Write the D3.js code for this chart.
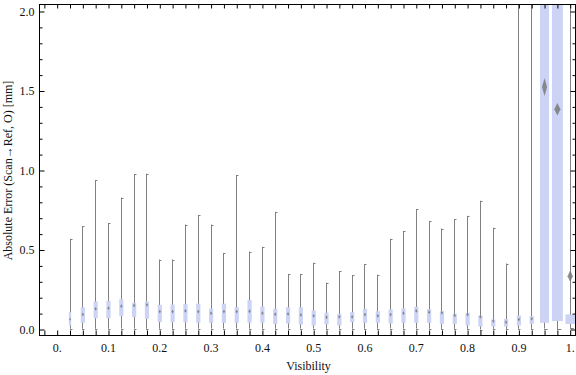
<!DOCTYPE html>
<html><head><meta charset="utf-8">
<script src="https://cdn.jsdelivr.net/npm/d3@7"></script>
<style>body{margin:0;background:#fff}svg{display:block}</style>
</head><body>
<svg id="c" width="576" height="375"></svg>
<script>
const positions = [0.025,0.05,0.075,0.1,0.125,0.15,0.175,0.2,0.225,0.25,0.275,0.3,0.325,0.35,0.375,0.4,0.425,0.45,0.475,0.5,0.525,0.55,0.575,0.6,0.625,0.65,0.675,0.7,0.725,0.75,0.775,0.8,0.825,0.85,0.875,0.9,0.925,0.95,0.975,1.0];
const whiskerLow = [0.005,0.005,0.005,0.005,0.006,0.006,0.005,0.005,0.005,0.005,0.006,0.006,0.006,0.006,0.005,0.005,0.005,0.006,0.006,0.006,0.005,0.005,0.005,0.005,0.005,0.006,0.005,0.006,0.005,0.004,0.004,0.004,0.0,0.004,0.004,0.004,0.004,0.006,0.001,0.01];
const q1 = [0.025,0.042,0.071,0.071,0.084,0.078,0.067,0.046,0.046,0.046,0.042,0.042,0.042,0.042,0.042,0.042,0.035,0.038,0.032,0.025,0.032,0.025,0.046,0.042,0.042,0.038,0.042,0.042,0.042,0.035,0.035,0.025,0.019,0.019,0.019,0.025,0.035,0.042,0.053,0.035];
const q3 = [0.109,0.14,0.176,0.18,0.19,0.168,0.176,0.155,0.157,0.16,0.163,0.132,0.162,0.14,0.185,0.145,0.13,0.14,0.14,0.12,0.105,0.099,0.109,0.13,0.115,0.126,0.132,0.143,0.128,0.115,0.099,0.105,0.088,0.063,0.067,0.088,0.084,2.6,2.6,0.095];
const whiskerHigh = [0.57,0.65,0.94,0.67,0.83,0.975,0.98,0.44,0.44,0.66,0.72,0.66,0.48,0.97,0.49,0.52,0.74,0.35,0.35,0.42,0.295,0.365,0.34,0.41,0.345,0.57,0.62,0.755,0.68,0.635,0.695,0.715,0.81,0.64,0.415,2.6,2.6,2.6,2.6,2.6];
const means = [0.065,0.095,0.13,0.134,0.147,0.151,0.155,0.113,0.113,0.117,0.113,0.103,0.113,0.113,0.115,0.103,0.096,0.098,0.092,0.086,0.077,0.08,0.08,0.094,0.086,0.094,0.103,0.117,0.109,0.105,0.088,0.094,0.08,0.053,0.046,0.063,0.067,1.525,1.385,0.335];
const meanCI = [0.012,0.012,0.012,0.012,0.012,0.012,0.012,0.012,0.012,0.012,0.012,0.012,0.012,0.012,0.012,0.012,0.012,0.012,0.012,0.012,0.012,0.012,0.012,0.012,0.012,0.012,0.012,0.012,0.012,0.012,0.012,0.012,0.012,0.012,0.012,0.012,0.012,0.057,0.039,0.037];
const boxWeight = [0.55,1,1,1,1,1,1,1,1,1,1,1,1,1,1,1,1,1,1,1,1,1,1,1,1,1,1,1,1,1,1,1,1,1,1,1,1,2.15,2.6,2.25];
const xTickValues = [-0.025,0,0.025,0.05,0.075,0.1,0.125,0.15,0.175,0.2,0.225,0.25,0.275,0.3,0.325,0.35,0.375,0.4,0.425,0.45,0.475,0.5,0.525,0.55,0.575,0.6,0.625,0.65,0.675,0.7,0.725,0.75,0.775,0.8,0.825,0.85,0.875,0.9,0.925,0.95,0.975,1.0];
const xLabelValues = [0,0.1,0.2,0.3,0.4,0.5,0.6,0.7,0.8,0.9,1.0];
const xTickLabels = ["0.","0.1","0.2","0.3","0.4","0.5","0.6","0.7","0.8","0.9","1."];
const yMajorValues = [0,0.5,1.0,1.5,2.0];
const yTickLabels = ["0.0","0.5","1.0","1.5","2.0"];
const yMinorValues = [0.1,0.2,0.3,0.4,0.6,0.7,0.8,0.9,1.1,1.2,1.3,1.4,1.6,1.7,1.8,1.9];
const xTitle = "Visibility";
const yTitle = "Absolute Error (Scan\u2192Ref, O) [mm]";

const L = 39.5, R = 575.5, T = 4.5, B = 335.5;
const x = d3.scaleLinear().domain([-0.0335, 1.0113]).range([L, R]);
const y = d3.scaleLinear().domain([-0.0377, 2.044]).range([B, T]);
const font = "'Liberation Serif','Times New Roman',serif";
const baseW = 4.2;
const boxFill = "rgb(204,211,244)";
const whiskColor = "#808080";

const svg = d3.select("#c");
svg.append("defs").append("clipPath").attr("id","clip")
  .append("rect").attr("x",L).attr("y",T).attr("width",R-L).attr("height",B-T);

const data = positions.map((p,i)=>({p,lo:whiskerLow[i],q1:q1[i],q3:q3[i],hi:whiskerHigh[i],m:means[i],ci:meanCI[i],w:boxWeight[i]*baseW}));
const g = svg.append("g").attr("clip-path","url(#clip)");
const px = d => Math.round(x(d.p)) + 0.5;

// whiskers
g.selectAll(".wh").data(data).join("line")
  .attr("x1",px).attr("x2",px)
  .attr("y1",d=>y(d.lo)).attr("y2",d=>y(d.hi))
  .attr("stroke",whiskColor).attr("stroke-width",1);
// caps
["lo","hi"].forEach(k=>{
  g.selectAll(".cap"+k).data(data).join("line")
    .attr("x1",d=>px(d)-0.5).attr("x2",d=>px(d)+Math.max(2,d.w*0.35))
    .attr("y1",d=>Math.round(y(d[k]))+0.5).attr("y2",d=>Math.round(y(d[k]))+0.5)
    .attr("stroke",whiskColor).attr("stroke-width",1);
});
// boxes
g.selectAll(".box").data(data).join("rect")
  .attr("x",d=>x(d.p)+0.5-d.w/2).attr("width",d=>d.w)
  .attr("y",d=>y(d.q3)).attr("height",d=>y(d.q1)-y(d.q3))
  .attr("fill",boxFill);
// mean diamonds
g.selectAll(".mean").data(data).join("path")
  .attr("d",d=>{
    const cx = x(d.p)+0.5, hw = d.w*0.28;
    const yt = y(d.m+d.ci), yb = y(d.m-d.ci), ym = y(d.m);
    return `M${cx},${yt}L${cx+hw},${ym}L${cx},${yb}L${cx-hw},${ym}Z`;
  })
  .attr("fill","#7a7a7a").attr("fill-opacity",0.85);

// axes
const axg = svg.append("g").attr("font-family",font);
const tickLine = (x1,y1,x2,y2)=>axg.append("line").attr("x1",x1).attr("y1",y1).attr("x2",x2).attr("y2",y2).attr("stroke","#000").attr("stroke-width",1);

const xb = d3.axisBottom(x).tickValues(xTickValues).tickSize(-5).tickPadding(8)
  .tickFormat(v=>{const k = xLabelValues.findIndex(t=>Math.abs(t-v)<1e-9); return k>=0?xTickLabels[k]:"";});
const xbG = svg.append("g").attr("transform",`translate(0,${B})`).call(xb);
const xt = d3.axisTop(x).tickValues(xTickValues).tickSize(-4).tickFormat("");
const xtG = svg.append("g").attr("transform",`translate(0,${T})`).call(xt);
const yl = d3.axisLeft(y).tickValues(yMajorValues).tickSize(-5).tickPadding(5)
  .tickFormat((v,i)=>yTickLabels[i]);
const ylG = svg.append("g").attr("transform",`translate(${L},0)`).call(yl);
const ylm = d3.axisLeft(y).tickValues(yMinorValues).tickSize(-3).tickFormat("");
const ylmG = svg.append("g").attr("transform",`translate(${L},0)`).call(ylm);
const yr = d3.axisRight(y).tickValues(yMajorValues).tickSize(-5).tickFormat("");
const yrG = svg.append("g").attr("transform",`translate(${R},0)`).call(yr);
const yrm = d3.axisRight(y).tickValues(yMinorValues).tickSize(-3).tickFormat("");
const yrmG = svg.append("g").attr("transform",`translate(${R},0)`).call(yrm);
[xbG,xtG,ylG,ylmG,yrG,yrmG].forEach(s=>{
  s.select(".domain").remove();
  s.selectAll("text").attr("font-family",font).attr("font-size",12).attr("fill","#111");
});
xbG.selectAll(".tick line").attr("transform","translate(0.5,0)");
xtG.selectAll(".tick line").attr("transform","translate(0.5,0)");

// frame
svg.append("rect").attr("x",L).attr("y",T).attr("width",R-L).attr("height",B-T)
  .attr("fill","none").attr("stroke","#000").attr("stroke-width",1);

// titles
svg.append("text").attr("x",(L+R)/2+1).attr("y",370).attr("text-anchor","middle")
  .attr("font-family",font).attr("font-size",12).attr("fill","#111").text(xTitle);
svg.append("text").attr("transform",`translate(12,${y(1.0)}) rotate(-90)`).attr("text-anchor","middle")
  .attr("font-family",font).attr("font-size",12).attr("fill","#111").text(yTitle);
</script>
</body></html>
